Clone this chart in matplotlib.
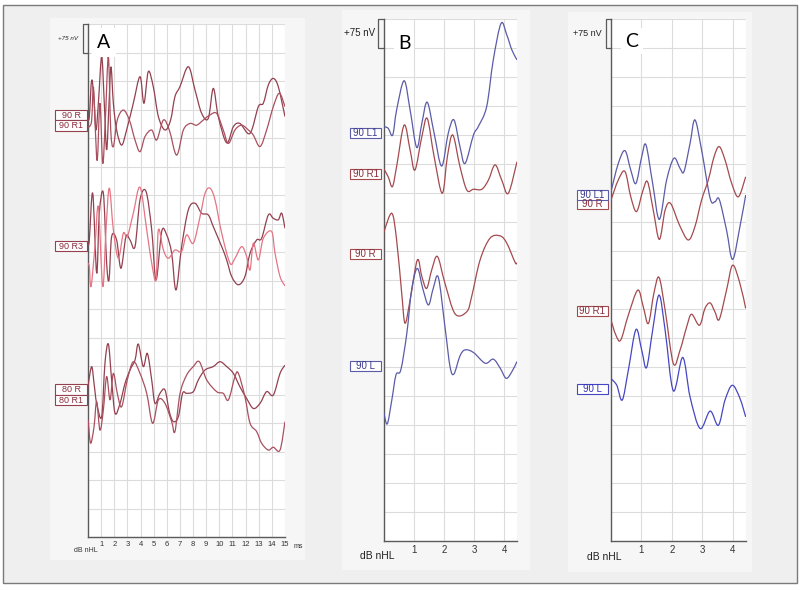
import matplotlib
matplotlib.use("Agg")
import matplotlib.pyplot as plt
from matplotlib.patches import Rectangle, PathPatch
from matplotlib.path import Path

W, H = 800, 590

# ---------------- data (time in ms, amplitude in grid divisions, 1 div = 75 nV)
# panel A, 0-15 ms
a_90r_t = [0.0, 0.1, 0.28, 0.46, 0.61, 0.79, 1.04, 1.24, 1.42, 1.6, 1.75, 1.93, 2.18, 2.56, 2.94,
           3.45, 3.96, 4.26, 4.59, 4.97, 5.36, 5.86, 6.29, 6.62, 7.0, 7.64, 8.15, 8.65, 9.16, 9.54,
           9.92, 10.56, 11.07, 11.57, 12.33, 12.97, 13.35, 13.73, 14.11, 14.49, 15.0]
a_90r_v = [14.7, 14.75, 16.03, 15.33, 14.28, 15.22, 16.85, 15.22, 13.58, 15.22, 16.5, 15.22, 14.28,
           13.75, 14.28, 15.22, 16.15, 15.22, 16.33, 15.8, 14.75, 14.28, 14.63, 15.45, 15.8, 16.5,
           15.68, 14.87, 14.69, 15.74, 14.75, 13.83, 14.4, 14.51, 14.16, 15.1, 15.22, 15.86, 16.09,
           15.8, 14.75]
a_90r1_t = [0.0, 0.1, 0.28, 0.41, 0.56, 0.71, 0.91, 1.12, 1.32, 1.55, 1.73, 1.93, 2.23, 2.69, 3.15,
            3.58, 3.96, 4.34, 4.85, 5.23, 5.74, 6.19, 6.75, 7.26, 7.77, 8.27, 8.78, 9.29, 9.8, 10.3,
            10.69, 11.19, 11.7, 12.21, 12.59, 13.1, 13.6, 14.11, 14.57, 15.0]
a_90r1_v = [14.4, 14.4, 14.63, 15.8, 14.28, 13.23, 15.22, 13.11, 14.63, 16.85, 14.28, 13.7, 14.63,
            14.98, 14.63, 13.93, 13.52, 14.05, 14.28, 13.93, 14.63, 14.28, 13.4, 14.28, 14.51, 14.45,
            14.63, 14.81, 14.86, 14.28, 13.81, 14.28, 14.45, 14.28, 14.1, 13.7, 14.28, 15.1, 15.57,
            15.1]
a_90r3_t = [0.0, 0.1, 0.36, 0.66, 0.86, 1.17, 1.42, 1.6, 1.8, 2.18, 2.51, 2.89, 3.2, 3.58, 3.96,
            4.42, 4.85, 5.18, 5.61, 5.99, 6.37, 6.7, 7.13, 7.64, 8.15, 8.65, 9.16, 9.54, 10.18,
            10.56, 10.94, 11.45, 11.95, 12.34, 12.84, 13.22, 13.73, 14.11, 14.49, 14.75, 15.0]
a_90r3_v = [10.3, 10.42, 12.06, 9.26, 11.36, 12.06, 9.61, 9.02, 10.54, 10.42, 9.43, 10.54, 10.42,
            10.19, 11.83, 12.12, 10.78, 9.02, 10.72, 10.6, 9.96, 8.67, 10.19, 11.48, 11.71, 11.36,
            11.3, 10.89, 10.19, 9.72, 9.14, 8.85, 9.14, 9.96, 10.42, 10.48, 11.3, 11.18, 11.13,
            11.36, 10.83]
a_90r3b_t = [0.0, 0.1, 0.23, 0.53, 0.79, 1.12, 1.37, 1.62, 1.93, 2.31, 2.69, 2.99, 3.45, 3.96, 4.47,
             4.85, 5.18, 5.36, 5.74, 6.12, 6.62, 7.13, 7.51, 8.02, 8.53, 8.91, 9.29, 9.67, 10.18,
             10.81, 11.19, 11.7, 12.08, 12.34, 12.59, 12.97, 13.35, 13.98, 14.24, 14.62, 15.0]
a_90r3b_v = [9.6, 9.49, 8.79, 10.19, 11.59, 8.79, 10.78, 12.24, 10.78, 9.78, 10.66, 10.54, 11.36,
             12.27, 10.78, 9.61, 9.02, 10.78, 10.07, 9.78, 10.07, 10.02, 10.6, 10.31, 11.24, 12.06,
             12.24, 11.83, 10.66, 9.61, 9.78, 10.19, 9.84, 9.37, 10.31, 9.72, 10.48, 10.72, 9.96,
             9.14, 8.81]
a_80r_t = [0.0, 0.03, 0.28, 0.46, 0.66, 1.04, 1.29, 1.55, 1.8, 2.06, 2.44, 2.82, 3.2, 3.58, 3.83,
           4.21, 4.52, 4.85, 5.1, 5.48, 5.86, 6.19, 6.5, 6.88, 7.2, 7.51, 8.02, 8.4, 8.91, 9.54,
           10.05, 10.56, 11.07, 11.57, 12.08, 12.59, 13.1, 13.6, 14.11, 14.62, 15.0]
a_80r_v = [5.2, 5.39, 5.98, 5.39, 4.69, 4.22, 6.09, 6.77, 5.51, 4.34, 4.69, 5.39, 5.86, 6.21, 6.77,
           5.98, 6.44, 5.51, 4.69, 5.04, 5.16, 4.4, 4.05, 4.22, 5.04, 5.04, 5.1, 5.51, 5.86, 5.98,
           6.15, 5.98, 5.74, 5.27, 4.86, 4.51, 4.69, 5.1, 4.98, 5.74, 6.03]
a_80r1_t = [0.0, 0.03, 0.2, 0.46, 0.66, 0.91, 1.17, 1.42, 1.68, 1.93, 2.23, 2.56, 2.99, 3.45, 3.96,
            4.47, 4.92, 5.36, 5.86, 6.37, 6.62, 7.01, 7.51, 8.02, 8.48, 9.04, 9.8, 10.3, 10.69,
            11.19, 11.45, 11.95, 12.34, 12.84, 13.22, 13.73, 14.11, 14.62, 15.0]
a_80r1_v = [4.1, 3.99, 3.29, 3.87, 4.75, 3.75, 4.46, 5.63, 4.81, 5.74, 5.04, 4.57, 5.51, 6.15, 5.74,
            5.04, 3.99, 4.81, 4.69, 4.05, 3.7, 5.04, 5.68, 5.98, 6.15, 5.51, 5.1, 5.04, 4.81, 5.63,
            5.74, 4.92, 3.99, 3.7, 3.29, 3.05, 3.15, 3.05, 4.05]

# panel B, 0-4.4 ms
b_90l1_t = [0, 0.14, 0.29, 0.42, 0.67, 0.87, 1.09, 1.26, 1.44, 1.67, 1.92, 2.14, 2.33, 2.53, 2.7,
            2.98, 3.14, 3.42, 3.64, 3.9, 4.09, 4.26, 4.43]
b_90l1_v = [14.29, 14.23, 14.0, 14.86, 15.87, 14.86, 13.57, 14.4, 15.13, 14.06, 12.93, 14.06, 14.52,
            13.6, 13.02, 14.0, 14.29, 14.98, 16.59, 17.85, 17.45, 16.93, 16.59]
b_90r1_t = [0, 0.14, 0.28, 0.42, 0.67, 0.87, 1.03, 1.26, 1.44, 1.67, 1.94, 2.11, 2.29, 2.53, 2.76,
            2.98, 3.26, 3.48, 3.7, 3.92, 4.14, 4.43]
b_90r1_v = [12.82, 12.56, 12.22, 12.91, 14.34, 13.48, 12.79, 13.94, 14.57, 13.25, 11.99, 13.25, 14.0,
            12.91, 12.1, 12.13, 12.13, 12.45, 12.97, 12.45, 11.99, 13.08]
b_90r_t = [0, 0.26, 0.42, 0.59, 0.7, 0.87, 1.11, 1.26, 1.42, 1.59, 1.78, 2.03, 2.37, 2.76, 2.92,
           3.2, 3.53, 3.87, 4.09, 4.37, 4.43]
b_90r_v = [10.67, 11.3, 10.38, 8.54, 7.51, 8.31, 9.69, 9.12, 8.71, 9.35, 9.81, 8.89, 7.83, 7.91,
           8.43, 9.69, 10.44, 10.52, 10.27, 9.6, 9.6]
b_90l_t = [0, 0.11, 0.26, 0.4, 0.56, 0.76, 0.92, 1.11, 1.29, 1.48, 1.64, 1.81, 2.03, 2.2, 2.33,
           2.53, 2.7, 2.98, 3.37, 3.64, 3.87, 4.07, 4.26, 4.43]
b_90l_v = [4.4, 4.04, 4.86, 5.73, 5.9, 7.16, 8.66, 9.4, 8.71, 8.14, 8.71, 9.09, 7.39, 6.01, 5.76,
           6.38, 6.59, 6.5, 6.13, 6.27, 5.96, 5.61, 5.84, 6.19]

# panel C, 0-4.4 ms
c_90l1_t = [0, 0.24, 0.46, 0.65, 0.82, 1.01, 1.15, 1.37, 1.59, 1.83, 2.07, 2.27, 2.4, 2.6, 2.76,
            2.98, 3.26, 3.42, 3.56, 3.8, 4.0, 4.24, 4.43]
c_90l1_v = [12.05, 13.02, 13.46, 12.79, 12.33, 13.25, 13.66, 12.33, 11.09, 12.45, 13.2, 12.85, 12.74,
            13.71, 14.52, 13.48, 11.82, 11.7, 11.78, 10.72, 9.71, 10.84, 11.93]
c_90r_t = [0, 0.24, 0.46, 0.65, 0.84, 1.04, 1.2, 1.39, 1.59, 1.78, 1.96, 2.25, 2.54, 2.76, 2.98,
           3.2, 3.39, 3.56, 3.75, 3.97, 4.19, 4.43]
c_90r_v = [11.76, 12.45, 12.74, 11.87, 11.36, 12.05, 12.39, 11.41, 10.4, 11.41, 11.64, 10.9, 10.38,
           10.84, 11.76, 12.45, 13.25, 13.6, 13.14, 12.33, 11.87, 12.56]
c_90r1_t = [0, 0.16, 0.32, 0.57, 0.88, 1.06, 1.23, 1.41, 1.58, 1.78, 2.05, 2.27, 2.49, 2.65, 2.91,
            3.09, 3.26, 3.42, 3.56, 3.8, 4.0, 4.24, 4.43]
c_90r1_v = [7.62, 7.1, 6.93, 7.79, 8.65, 8.08, 7.5, 8.54, 9.09, 7.96, 6.12, 6.58, 7.39, 7.82, 7.44,
            8.02, 8.21, 7.9, 7.64, 8.65, 9.51, 8.88, 8.02]
c_90l_t = [0, 0.19, 0.37, 0.57, 0.82, 1.01, 1.17, 1.37, 1.58, 1.78, 2.05, 2.36, 2.6, 2.93, 3.26,
           3.53, 3.75, 3.99, 4.24, 4.43]
c_90l_v = [5.6, 5.37, 4.86, 5.89, 7.29, 6.58, 5.98, 7.27, 8.48, 7.27, 5.18, 6.33, 4.97, 3.88, 4.48,
           3.99, 4.86, 5.37, 4.92, 4.28]

a_ticks = list(range(1, 16))
bc_ticks = [1, 2, 3, 4]

DARK = "#93404f"
DARK2 = "#a9505f"
PINK = "#e57584"
RED = "#a44a4e"
BLUE = "#5b5ba8"
BLUE2 = "#4646c4"
GRID = "#dcdcdc"
AXC = "#5a5a5a"

plt.rcParams['font.family'] = ['Liberation Sans', 'DejaVu Sans']


def fig_rect(x0, y0, x1, y1):
    return [x0 / W, 1 - y1 / H, (x1 - x0) / W, (y1 - y0) / H]


def bg(x0, y0, x1, y1, fc, ec="none", lw=0):
    l, b, w, h = fig_rect(x0, y0, x1, y1)
    fig.patches.append(Rectangle((l, b), w, h, transform=fig.transFigure,
                                 fc=fc, ec=ec, lw=lw, zorder=-5))


def panel(rect_px, xmax, ticks, tsize):
    ax = fig.add_axes(fig_rect(*rect_px))
    ax.set_xlim(0, xmax)
    ax.set_ylim(0, 18)
    ax.set_facecolor("white")
    ax.set_xticks(ticks)
    ax.set_xticklabels([str(t) for t in ticks], fontsize=tsize, color="#333333")
    ax.set_yticks(range(0, 19))
    ax.set_yticklabels([])
    ax.tick_params(length=0, pad=3)
    ax.grid(True, color=GRID, lw=0.8)
    ax.set_axisbelow(True)
    for s in ("top", "right"):
        ax.spines[s].set_visible(False)
    for s in ("left", "bottom"):
        ax.spines[s].set_color(AXC)
        ax.spines[s].set_linewidth(1.0)
    return ax


def trace(ax, t, v, color, lw=0.9):
    # smooth curve through the read points (Catmull-Rom drawn as cubic Bezier)
    pts = list(zip(t, v))
    verts = [pts[0]]
    codes = [Path.MOVETO]
    n = len(pts)
    for i in range(n - 1):
        p0 = pts[i - 1] if i > 0 else pts[i]
        p1 = pts[i]
        p2 = pts[i + 1]
        p3 = pts[i + 2] if i + 2 < n else pts[i + 1]
        c1 = (p1[0] + (p2[0] - p0[0]) / 6, p1[1] + (p2[1] - p0[1]) / 6)
        c2 = (p2[0] - (p3[0] - p1[0]) / 6, p2[1] - (p3[1] - p1[1]) / 6)
        verts += [c1, c2, p2]
        codes += [Path.CURVE4] * 3
    ax.add_patch(PathPatch(Path(verts, codes), fc="none", ec=color, lw=lw, zorder=3))


def tag(ax, x0, x1, yc, h, text, ec, tc, fs):
    ax.add_patch(Rectangle((x0, yc - h / 2), x1 - x0, h, fc="white", ec=ec, lw=0.8,
                           clip_on=False, zorder=5))
    ax.text((x0 + x1) / 2, yc, text, color=tc, ha="center", va="center", fontsize=fs,
            clip_on=False, zorder=6)


def scalebar(ax, w, xt, fs, style="normal"):
    ax.plot([0, -w, -w, 0], [17, 17, 18, 18], color=AXC, lw=0.9, clip_on=False, zorder=4)
    ax.text(xt, 17.5, "+75 nV", fontsize=fs, ha="center", va="center", style=style,
            color="#222222", clip_on=False)


fig = plt.figure(figsize=(8, 5.9), dpi=100)
fig.patch.set_facecolor("white")

bg(3, 5, 797, 583, "#efefef", ec="#7a7a7a", lw=1.0)
bg(50, 18, 305, 560, "#f6f6f6")
bg(342, 10, 530, 570, "#f6f6f6")
bg(568, 12, 752, 572, "#f6f6f6")

# ---------------- panel A
axA = panel((88, 24, 285, 537), 15, a_ticks, 5.5)
trace(axA, a_90r_t, a_90r_v, DARK)
trace(axA, a_90r1_t, a_90r1_v, DARK2)
trace(axA, a_90r3_t, a_90r3_v, DARK)
trace(axA, a_90r3b_t, a_90r3b_v, PINK)
trace(axA, a_80r_t, a_80r_v, DARK)
trace(axA, a_80r1_t, a_80r1_v, DARK2)
tag(axA, -2.5, -0.08, 14.8, 0.36, "90 R", DARK, "#8a2f3c", 6.5)
tag(axA, -2.5, -0.08, 14.44, 0.36, "90 R1", DARK, "#8a2f3c", 6.5)
tag(axA, -2.5, -0.08, 10.21, 0.36, "90 R3", DARK, "#8a2f3c", 6.5)
tag(axA, -2.5, -0.08, 5.18, 0.36, "80 R", DARK, "#8a2f3c", 6.5)
tag(axA, -2.5, -0.08, 4.8, 0.36, "80 R1", DARK, "#8a2f3c", 6.5)
scalebar(axA, 0.4, -1.56, 4.5, style="italic")
axA.text(1.22, 17.35, "A", fontsize=14, family="Lato", ha="center", va="center",
         bbox=dict(fc="white", ec="none", pad=4), zorder=6)
fig.text(86 / W, 1 - 551 / H, "dB nHL", fontsize=5, ha="center", va="center", color="#333333")
fig.text(298 / W, 1 - 546 / H, "ms", fontsize=5, ha="center", va="center", color="#333333")

# ---------------- panel B
axB = panel((384, 19, 517, 541), 4.43, bc_ticks, 7)
trace(axB, b_90l1_t, b_90l1_v, BLUE)
trace(axB, b_90r1_t, b_90r1_v, RED)
trace(axB, b_90r_t, b_90r_v, RED)
trace(axB, b_90l_t, b_90l_v, BLUE)
tag(axB, -1.13, -0.1, 14.07, 0.34, "90 L1", BLUE, "#3a3a90", 7)
tag(axB, -1.13, -0.1, 12.66, 0.34, "90 R1", RED, "#8a2f3c", 7)
tag(axB, -1.13, -0.1, 9.9, 0.34, "90 R", RED, "#8a2f3c", 7)
tag(axB, -1.13, -0.1, 6.03, 0.34, "90 L", BLUE, "#3a3a90", 7)
scalebar(axB, 0.2, -0.8, 7)
axB.text(0.67, 17.14, "B", fontsize=14, family="Lato", ha="center", va="center",
         bbox=dict(fc="white", ec="none", pad=3), zorder=6)
fig.text(377 / W, 1 - 556 / H, "dB nHL", fontsize=7.5, ha="center", va="center", color="#222222")

# ---------------- panel C
axC = panel((611, 19, 746, 541), 4.44, bc_ticks, 7)
trace(axC, c_90l1_t, c_90l1_v, BLUE)
trace(axC, c_90r_t, c_90r_v, RED)
trace(axC, c_90r1_t, c_90r1_v, RED)
trace(axC, c_90l_t, c_90l_v, BLUE2)
tag(axC, -1.12, -0.1, 11.62, 0.34, "90 R", RED, "#8a2f3c", 7)
tag(axC, -1.12, -0.1, 11.93, 0.34, "90 L1", BLUE, "#3a3a90", 7)
tag(axC, -1.12, -0.1, 7.93, 0.34, "90 R1", RED, "#8a2f3c", 7)
tag(axC, -1.12, -0.1, 5.24, 0.34, "90 L", BLUE2, "#3030c0", 7)
scalebar(axC, 0.17, -0.79, 6.5)
axC.text(0.69, 17.24, "C", fontsize=14, family="Lato", ha="center", va="center",
         bbox=dict(fc="white", ec="none", pad=3), zorder=6)
fig.text(604 / W, 1 - 557 / H, "dB nHL", fontsize=7.5, ha="center", va="center", color="#222222")

fig.savefig("out.png", dpi=100)
